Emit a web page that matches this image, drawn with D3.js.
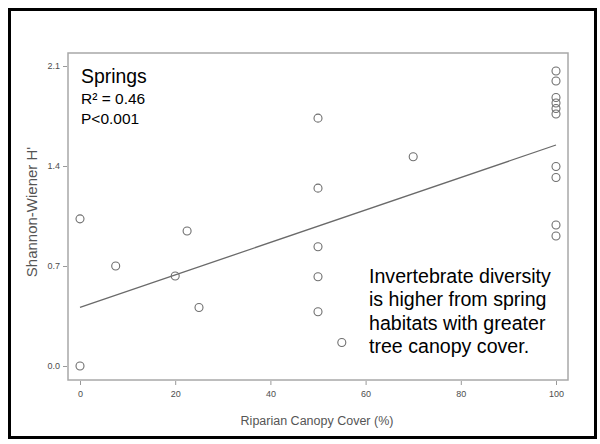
<!DOCTYPE html>
<html>
<head>
<meta charset="utf-8">
<script src="https://cdn.jsdelivr.net/npm/d3@7"></script>
<style>
  html, body { margin: 0; padding: 0; background: #fff; }
  svg { display: block; font-family: "Liberation Sans", Arial, sans-serif; }
</style>
</head>
<body>
<svg id="chart" width="600" height="444"></svg>
<script>
// ---- data ----
const canopyCover = [0, 0, 7.5, 20, 22.5, 25, 50, 50, 50, 50, 50, 55, 70,
                     100, 100, 100, 100, 100, 100, 100, 100, 100, 100];
const shannonH = [1.03, 0.00, 0.70, 0.63, 0.945, 0.41, 1.735, 1.245, 0.835, 0.625, 0.38, 0.165, 1.465,
                  2.065, 1.995, 1.879, 1.841, 1.803, 1.764, 1.397, 1.32, 0.987, 0.91];
const fitIntercept = 0.41;
const fitSlope = 0.01137;
const xTicks = [0, 20, 40, 60, 80, 100];
const yTicks = [0.0, 0.7, 1.4, 2.1];
const xTitle = "Riparian Canopy Cover (%)";
const yTitle = "Shannon-Wiener H'";
const statLines = ["Springs", "R² = 0.46", "P<0.001"];
const noteLines = ["Invertebrate diversity", "is higher from spring", "habitats with greater", "tree canopy cover."];

// ---- layout ----
const svg = d3.select("#chart");
const x = d3.scaleLinear().domain([0, 100]).range([80, 556]);
const y = d3.scaleLinear().domain([0, 2.1]).range([366, 66]);
const frame = { left: 68, right: 568, top: 53, bottom: 380 };

// outer slide border
svg.append("rect")
  .attr("x", 9.5).attr("y", 9.5).attr("width", 586).attr("height", 428)
  .attr("fill", "#fff").attr("stroke", "#000").attr("stroke-width", 3);

// plot frame
svg.append("rect")
  .attr("x", frame.left).attr("y", frame.top)
  .attr("width", frame.right - frame.left).attr("height", frame.bottom - frame.top)
  .attr("fill", "none").attr("stroke", "#a8a8a8").attr("stroke-width", 1.5);

// axes
const tickFont = "'Liberation Sans Narrow', 'Liberation Sans', Arial, sans-serif";
const xAxis = d3.axisBottom(x).tickValues(xTicks).tickSize(4).tickPadding(6).tickFormat(d3.format("d"));
const gx = svg.append("g").attr("transform", `translate(0,${frame.bottom + 1})`).call(xAxis);
gx.select(".domain").remove();
gx.selectAll(".tick line").attr("stroke", "#999");
gx.selectAll(".tick text").attr("fill", "#4d4d4d").attr("font-size", "9px").attr("font-family", tickFont);

const yAxis = d3.axisLeft(y).tickValues(yTicks).tickSize(4).tickPadding(3).tickFormat(d3.format(".1f"));
const gy = svg.append("g").attr("transform", `translate(${frame.left - 1},0)`).call(yAxis);
gy.select(".domain").remove();
gy.selectAll(".tick line").attr("stroke", "#999");
gy.selectAll(".tick text").attr("fill", "#4d4d4d").attr("font-size", "9px").attr("font-family", tickFont);

// axis titles
svg.append("text")
  .attr("x", 317).attr("y", 425)
  .attr("text-anchor", "middle").attr("fill", "#555").attr("font-size", "12.5px")
  .text(xTitle);
svg.append("text")
  .attr("transform", "translate(37,212) rotate(-90)")
  .attr("text-anchor", "middle").attr("fill", "#555").attr("font-size", "15px")
  .text(yTitle);

// regression line
svg.append("line")
  .attr("x1", x(0)).attr("y1", y(fitIntercept))
  .attr("x2", x(100)).attr("y2", y(fitIntercept + fitSlope * 100))
  .attr("stroke", "#6a6a6a").attr("stroke-width", 1.3);

// points
svg.append("g").selectAll("circle")
  .data(canopyCover.map((c, i) => [c, shannonH[i]]))
  .join("circle")
  .attr("cx", d => x(d[0])).attr("cy", d => y(d[1]))
  .attr("r", 4)
  .attr("fill", "none").attr("stroke", "#6f6f6f").attr("stroke-width", 1.1);

// stats annotation
svg.append("text").attr("x", 81).attr("y", 83).attr("font-size", "19.4px").attr("fill", "#000").text(statLines[0]);
svg.append("text").attr("x", 81).attr("y", 104).attr("font-size", "15.5px").attr("fill", "#000").text(statLines[1]);
svg.append("text").attr("x", 81).attr("y", 124).attr("font-size", "15.5px").attr("fill", "#000").text(statLines[2]);

// note annotation
svg.append("g").selectAll("text")
  .data(noteLines)
  .join("text")
  .attr("x", 369).attr("y", (d, i) => 283 + i * 23.3)
  .attr("font-size", "19.6px").attr("fill", "#000")
  .text(d => d);
</script>
</body>
</html>
